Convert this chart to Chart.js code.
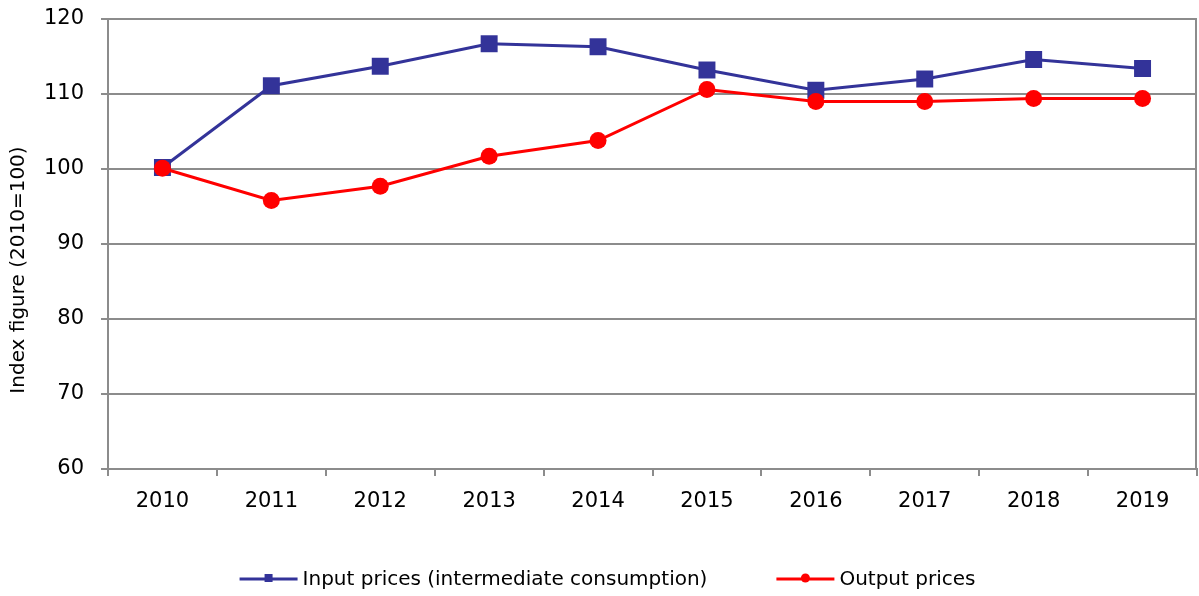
<!DOCTYPE html>
<html>
<head>
<meta charset="utf-8">
<script src="https://cdn.jsdelivr.net/npm/chart.js@4.4.1/dist/chart.umd.min.js"></script>
<style>
  html, body { margin: 0; padding: 0; background: #fff; overflow: hidden; }
  #wrap { width: 1199px; height: 596px; }
</style>
</head>
<body>
<div id="wrap"><canvas id="priceChart"></canvas></div>
<script>
// Price indices, 2010 = 100
const years = ['2010', '2011', '2012', '2013', '2014', '2015', '2016', '2017', '2018', '2019'];
const inputPrices = [100.2, 111.1, 113.7, 116.7, 116.3, 113.2, 110.5, 112.0, 114.6, 113.4];
const outputPrices = [100.1, 95.8, 97.7, 101.7, 103.8, 110.6, 109.0, 109.0, 109.4, 109.4];
const yTicks = [60, 70, 80, 90, 100, 110, 120];
const yTitle = 'Index figure (2010=100)';

const FONT = 'DejaVu Sans';
const GRID = '#8c8c8c';

// right-hand frame line, y axis title and the legend under the chart
const framePlugin = {
    id: 'frame',
    beforeDatasetsDraw: function (chart) {
        const a = chart.chartArea;
        const ctx = chart.ctx;
        ctx.save();
        ctx.strokeStyle = GRID;
        ctx.lineWidth = 2;
        ctx.beginPath();
        ctx.moveTo(a.right - 1, a.top);
        ctx.lineTo(a.right - 1, a.bottom);
        ctx.stroke();
        ctx.restore();
    },
    afterDraw: function (chart) {
        const ctx = chart.ctx;
        ctx.save();
        // y title
        ctx.font = '20px "' + FONT + '"';
        ctx.fillStyle = '#000';
        ctx.textAlign = 'center';
        ctx.textBaseline = 'middle';
        ctx.translate(19, 270);
        ctx.rotate(-Math.PI / 2);
        ctx.fillText(yTitle, 0, 0);
        ctx.restore();

        // legend
        const items = [chart.data.datasets[0], chart.data.datasets[1]];
        const sample = 58, gap = 5, spacing = 69;
        ctx.save();
        ctx.font = '20px "' + FONT + '"';
        let total = 0;
        items.forEach(function (ds, i) {
            total += sample + gap + ctx.measureText(ds.label).width + (i ? 0 : spacing);
        });
        let x = (chart.width - total) / 2 + 8;
        const y = 579;
        items.forEach(function (ds) {
            ctx.strokeStyle = ds.borderColor;
            ctx.fillStyle = ds.borderColor;
            ctx.lineWidth = 3;
            ctx.beginPath();
            ctx.moveTo(x, y);
            ctx.lineTo(x + sample, y);
            ctx.stroke();
            ctx.beginPath();
            if (ds.pointStyle === 'rect') {
                ctx.rect(x + sample / 2 - 4, y - 5, 8, 8);
            } else {
                ctx.arc(x + sample / 2, y - 1, 4.5, 0, Math.PI * 2);
            }
            ctx.fill();
            x += sample + gap;
            ctx.fillStyle = '#000';
            ctx.textBaseline = 'middle';
            ctx.fillText(ds.label, x, y + 1);
            x += ctx.measureText(ds.label).width + spacing;
        });
        ctx.restore();
    }
};

document.addEventListener('DOMContentLoaded', function () {
    const ctx = document.getElementById('priceChart');
    new Chart(ctx, {
        type: 'line',
        data: {
            labels: years,
            datasets: [{
                label: 'Input prices (intermediate consumption)',
                data: inputPrices,
                borderColor: '#333399',
                backgroundColor: '#333399',
                borderWidth: 3,
                pointStyle: 'rect',
                pointRadius: 12,
                pointBorderWidth: 0,
                tension: 0,
                order: 1
            }, {
                label: 'Output prices',
                data: outputPrices,
                borderColor: '#ff0000',
                backgroundColor: '#ff0000',
                borderWidth: 3,
                pointStyle: 'circle',
                pointRadius: 8.5,
                pointBorderWidth: 0,
                tension: 0,
                order: 0
            }]
        },
        options: {
            responsive: true,
            maintainAspectRatio: false,
            animation: false,
            layout: {
                autoPadding: false,
                padding: { top: 19, right: 2, bottom: 67, left: 0 }
            },
            plugins: {
                legend: { display: false },
                tooltip: { enabled: false }
            },
            scales: {
                x: {
                    offset: true,
                    grid: {
                        offset: true,
                        drawOnChartArea: false,
                        color: GRID,
                        lineWidth: 2,
                        tickLength: 7
                    },
                    border: { color: GRID, width: 2 },
                    ticks: {
                        color: '#000',
                        padding: 13,
                        maxRotation: 0,
                        font: { family: FONT, size: 21 }
                    },
                    afterFit: function (scale) {
                        scale.height = 60;
                        scale.paddingLeft = 0;
                        scale.paddingRight = 0;
                    }
                },
                y: {
                    min: yTicks[0],
                    max: yTicks[yTicks.length - 1],
                    afterBuildTicks: function (scale) {
                        scale.ticks = yTicks.map(function (v) { return { value: v }; });
                    },
                    grid: {
                        color: GRID,
                        lineWidth: 2,
                        tickLength: 7
                    },
                    border: { color: GRID, width: 2 },
                    ticks: {
                        color: '#000',
                        padding: 17,
                        font: { family: FONT, size: 21 }
                    },
                    afterFit: function (scale) {
                        scale.width = 108;
                        scale.paddingTop = 0;
                        scale.paddingBottom = 0;
                    }
                }
            }
        },
        plugins: [framePlugin]
    });
});
</script>
</body>
</html>
